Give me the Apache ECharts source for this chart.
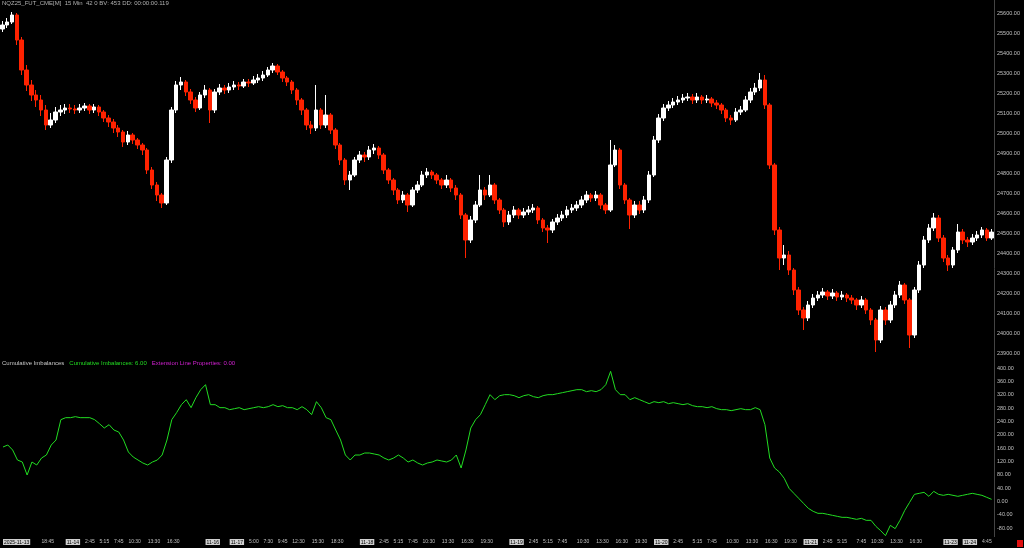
<!DOCTYPE html>
<html>
<head>
<meta charset="utf-8">
<script src="https://cdn.jsdelivr.net/npm/echarts@6/dist/echarts.min.js"></script>
<style>
html,body{margin:0;padding:0;background:#000;}
#c{width:1024px;height:548px;}
</style>
</head>
<body>
<div id="c"></div>
<script>
const opens = [
25520,25540,25555,25590,25465,25315,25240,25190,25165,25115,
25040,25065,25105,25115,25125,25120,25115,25125,25135,25115,
25130,25105,25075,25055,25025,25005,24955,24990,24965,24940,
24915,24815,24740,24690,24650,24865,25115,25240,25255,25205,
25165,25125,25190,25215,25115,25205,25225,25215,25230,25240,
25235,25255,25250,25265,25275,25290,25315,25335,25305,25275,
25255,25215,25165,25115,25040,25025,25115,25040,25090,25015,
24940,24865,24765,24790,24865,24890,24880,24915,24925,24890,
24815,24765,24715,24665,24690,24640,24715,24740,24790,24805,
24790,24765,24740,24765,24725,24690,24590,24465,24565,24640,
24715,24690,24740,24665,24615,24555,24590,24615,24590,24605,
24615,24625,24565,24525,24515,24555,24575,24590,24615,24625,
24640,24665,24690,24675,24690,24640,24615,24840,24915,24740,
24665,24590,24640,24615,24665,24790,24965,25075,25125,25140,
25155,25165,25175,25180,25165,25180,25165,25170,25150,25140,
25115,25075,25065,25105,25115,25165,25205,25225,25265,25140,
24840,24515,24375,24390,24315,24215,24115,24075,24140,24175,
24190,24205,24185,24200,24180,24190,24175,24165,24140,24165,
24115,24065,23965,24115,24065,24140,24190,24240,24165,23990,
24215,24340,24465,24525,24575,24475,24375,24340,24415,24505,
24465,24455,24475,24490,24515,24475];
const closes = [
25540,25555,25590,25465,25315,25240,25190,25165,25115,25040,
25065,25105,25115,25125,25120,25115,25125,25135,25115,25130,
25105,25075,25055,25025,25005,24955,24990,24965,24940,24915,
24815,24740,24690,24650,24865,25115,25240,25255,25205,25165,
25125,25190,25215,25115,25205,25225,25215,25230,25240,25235,
25255,25250,25265,25275,25290,25315,25335,25305,25275,25255,
25215,25165,25115,25040,25025,25115,25040,25090,25015,24940,
24865,24765,24790,24865,24890,24880,24915,24925,24890,24815,
24765,24715,24665,24690,24640,24715,24740,24790,24805,24790,
24765,24740,24765,24725,24690,24590,24465,24565,24640,24715,
24690,24740,24665,24615,24555,24590,24615,24590,24605,24615,
24625,24565,24525,24515,24555,24575,24590,24615,24625,24640,
24665,24690,24675,24690,24640,24615,24840,24915,24740,24665,
24590,24640,24615,24665,24790,24965,25075,25125,25140,25155,
25165,25175,25180,25165,25180,25165,25170,25150,25140,25115,
25075,25065,25105,25115,25165,25205,25225,25265,25140,24840,
24515,24375,24390,24315,24215,24115,24075,24140,24175,24190,
24205,24185,24200,24180,24190,24175,24165,24140,24165,24115,
24065,23965,24115,24065,24140,24190,24240,24165,23990,24215,
24340,24465,24525,24575,24475,24375,24340,24415,24505,24465,
24455,24475,24490,24515,24475,24504.5];
const lows = [
25505,25525,25545,25440,25290,25210,25160,25130,25085,25015,
25025,25050,25085,25095,25100,25095,25100,25110,25095,25100,
25085,25055,25030,25000,24980,24930,24940,24945,24920,24890,
24795,24720,24660,24625,24640,24850,25100,25215,25185,25145,
25105,25115,25175,25050,25100,25190,25195,25200,25215,25215,
25225,25230,25240,25250,25260,25280,25300,25290,25255,25235,
25195,25140,25090,25015,24995,25010,25020,25025,24995,24920,
24840,24740,24715,24780,24850,24855,24865,24895,24870,24795,
24745,24690,24645,24650,24605,24630,24700,24730,24775,24770,
24745,24720,24725,24705,24665,24570,24375,24450,24550,24630,
24665,24680,24645,24595,24530,24540,24575,24570,24575,24590,
24600,24545,24505,24450,24500,24540,24560,24575,24600,24610,
24625,24650,24655,24660,24620,24595,24605,24830,24720,24645,
24520,24575,24595,24600,24650,24780,24950,25060,25110,25125,
25140,25150,25160,25145,25150,25145,25150,25130,25120,25095,
25055,25040,25055,25090,25105,25150,25190,25210,25120,24820,
24490,24315,24340,24290,24190,24090,24015,24060,24125,24160,
24175,24165,24170,24160,24165,24155,24145,24115,24125,24095,
24040,23905,23950,24040,24050,24125,24175,24145,23925,23975,
24200,24325,24450,24510,24455,24355,24310,24325,24400,24445,
24430,24440,24460,24475,24460,24465];
const highs = [
25560,25575,25605,25600,25480,25340,25265,25215,25190,25140,
25100,25130,25140,25145,25145,25140,25145,25150,25145,25145,
25140,25115,25090,25070,25040,25015,25010,25000,24975,24950,
24925,24830,24755,24700,24880,25130,25260,25280,25265,25220,
25180,25205,25240,25225,25220,25245,25240,25250,25260,25255,
25270,25270,25285,25295,25310,25330,25350,25345,25315,25285,
25265,25225,25175,25125,25060,25240,25125,25190,25100,25025,
24950,24875,24810,24880,24910,24905,24935,24945,24935,24900,
24825,24775,24725,24710,24700,24730,24760,24810,24825,24815,
24800,24775,24790,24775,24740,24700,24600,24585,24660,24790,
24730,24790,24750,24675,24625,24610,24635,24625,24625,24635,
24645,24635,24575,24540,24570,24595,24610,24635,24645,24660,
24685,24710,24700,24710,24700,24650,24965,24940,24925,24750,
24675,24660,24660,24685,24810,24985,25095,25145,25160,25175,
25185,25195,25200,25195,25200,25190,25190,25180,25165,25150,
25125,25090,25125,25135,25185,25225,25250,25300,25290,25150,
24850,24530,24440,24410,24325,24230,24130,24160,24195,24210,
24225,24215,24220,24210,24210,24200,24190,24175,24185,24175,
24125,24075,24135,24130,24160,24210,24260,24250,24175,24230,
24360,24485,24545,24600,24590,24490,24390,24430,24545,24520,
24480,24495,24510,24530,24525,24520];
const imbalance = [
163,169,154,124,118,79,118,109,130,139,
169,184,245,251,251,254,251,251,251,245,
233,220,230,214,208,184,148,133,124,115,
109,118,124,139,184,245,266,290,305,281,
311,335,350,290,290,281,281,275,278,281,
275,278,281,284,281,284,290,284,287,281,
281,275,284,275,260,299,281,251,245,214,
184,139,124,139,139,145,145,142,139,130,
124,130,139,130,118,124,115,109,115,118,
124,121,118,124,139,100,154,220,245,260,
290,320,305,317,320,320,317,311,317,320,
314,311,317,320,320,323,326,329,332,335,
335,329,332,329,335,350,390,335,320,320,
305,311,305,299,293,299,296,299,293,296,
293,290,293,287,284,284,281,284,278,275,
275,272,275,278,275,275,281,275,230,130,
100,88,69,39,24,9,-6,-21,-30,-36,
-36,-39,-42,-45,-48,-48,-51,-54,-51,-57,
-57,-75,-88,-103,-72,-82,-57,-27,-3,21,
24,27,15,30,21,18,21,18,15,18,
21,24,21,18,12,6];
// bar index -> time-axis tick label
const tickLabels = {
0:'2025-11-13',8:'18:45',13:'11-14',17:'2:45',20:'5:15',23:'7:45',26:'10:30',30:'13:30',34:'16:30',
42:'11-16',47:'11-17',51:'5:00',54:'7:30',57:'9:45',60:'12:30',64:'15:30',68:'18:30',
74:'11-18',78:'2:45',81:'5:15',84:'7:45',87:'10:30',91:'13:30',95:'16:30',99:'19:30',
105:'11-19',109:'2:45',112:'5:15',115:'7:45',119:'10:30',123:'13:30',127:'16:30',131:'19:30',
135:'11-20',139:'2:45',143:'5:15',146:'7:45',150:'10:30',154:'13:30',158:'16:30',162:'19:30',
166:'11-21',170:'2:45',173:'5:15',177:'7:45',180:'10:30',184:'13:30',188:'16:30',
195:'11-23',199:'11-24',203:'4:45'};
const headerText = 'NQZ25_FUT_CME[M]  15 Min  42 0 BV: 453 DD: 00:00:00.119';
const studyName = 'Cumulative Imbalances';
const studyValue = 'Cumulative Imbalances: 6.00';
const extValue = 'Extension Line Properties: 0.00';

const cats = closes.map((_, i) => String(i));
const candles = opens.map((o, i) => [o, closes[i], lows[i], highs[i]]);
const lastClose = closes[closes.length - 1];
const FONT = 'Liberation Sans';
const FS = 5.5;
const XFS = 5;
const RED = '#ff2200';

const chart = echarts.init(document.getElementById('c'), null, {renderer: 'canvas'});
chart.setOption({
  backgroundColor: '#000',
  animation: false,
  title: [
    {text: headerText, left: 2, top: 0, padding: 0,
     textStyle: {color: '#b0b0b0', fontSize: 6, fontWeight: 'normal', fontFamily: FONT}},
    {text: '{w|' + studyName + '}   {g|' + studyValue + '}   {m|' + extValue + '}', left: 2, top: 360, padding: 0,
     textStyle: {fontSize: 6, fontWeight: 'normal', fontFamily: FONT,
       rich: {w: {color: '#c8c8c8', fontSize: 6, fontFamily: FONT},
              g: {color: '#22dd22', fontSize: 6, fontFamily: FONT},
              m: {color: '#d020d0', fontSize: 6, fontFamily: FONT}}}}
  ],
  grid: [
    {left: 0, right: 30, top: 13, height: 340},
    {left: 0, right: 30, top: 368, height: 160}
  ],
  xAxis: [
    {type: 'category', gridIndex: 0, data: cats, boundaryGap: true,
     axisLine: {show: false}, axisTick: {show: false}, axisLabel: {show: false}, splitLine: {show: false}},
    {type: 'category', gridIndex: 1, data: cats, boundaryGap: true,
     axisLine: {show: false, onZero: false}, axisTick: {show: false}, splitLine: {show: false},
     axisLabel: {
       show: true, margin: 11, align: 'left', fontSize: XFS, fontFamily: FONT, color: '#c0c0c0',
       interval: (i) => tickLabels[i] !== undefined,
       formatter: (v, i) => {
         const t = tickLabels[i];
         if (t === undefined) return '';
         return t.indexOf('-') >= 0 ? '{d|' + t + '}' : t;
       },
       rich: {d: {backgroundColor: '#d0d0d0', color: '#000', fontSize: XFS, fontFamily: FONT, padding: [1, 1, 0, 1]}}
     }}
  ],
  yAxis: [
    {type: 'value', gridIndex: 0, position: 'right', min: 23900, max: 25600, interval: 100,
     axisLine: {show: false}, axisTick: {show: false}, splitLine: {show: false},
     axisLabel: {margin: 3, fontSize: FS, fontFamily: FONT, color: '#c0c0c0', formatter: v => v.toFixed(2)}},
    {type: 'value', gridIndex: 1, position: 'right', min: -80, max: 400, interval: 40,
     axisLine: {show: false}, axisTick: {show: false}, splitLine: {show: false},
     axisLabel: {margin: 3, fontSize: FS, fontFamily: FONT, color: '#c0c0c0', formatter: v => v.toFixed(2)}}
  ],
  series: [
    {type: 'candlestick', xAxisIndex: 0, yAxisIndex: 0, data: candles, barWidth: 4, clip: false,
     itemStyle: {color: '#ffffff', color0: RED, borderColor: '#ffffff', borderColor0: RED, borderWidth: 1},
     markLine: {silent: true, symbol: 'none', data: [{yAxis: lastClose}],
       lineStyle: {opacity: 0},
       label: {show: true, position: 'end', distance: 2, formatter: () => lastClose.toFixed(2),
         backgroundColor: '#ffffff', color: '#000', fontSize: FS, fontFamily: FONT, padding: [1, 1, 0, 1]}}},
    {type: 'line', xAxisIndex: 1, yAxisIndex: 1, data: imbalance, showSymbol: false, clip: false,
     lineStyle: {color: '#22dd22', width: 1}, itemStyle: {color: '#22dd22'}}
  ],
  graphic: [
    {type: 'line', shape: {x1: 994.5, y1: 0, x2: 994.5, y2: 537}, style: {stroke: '#444', lineWidth: 1}, silent: true},
    {type: 'rect', shape: {x: 1017, y: 540, width: 6, height: 7}, style: {fill: '#e01010'}, silent: true}
  ]
});
</script>
</body>
</html>
